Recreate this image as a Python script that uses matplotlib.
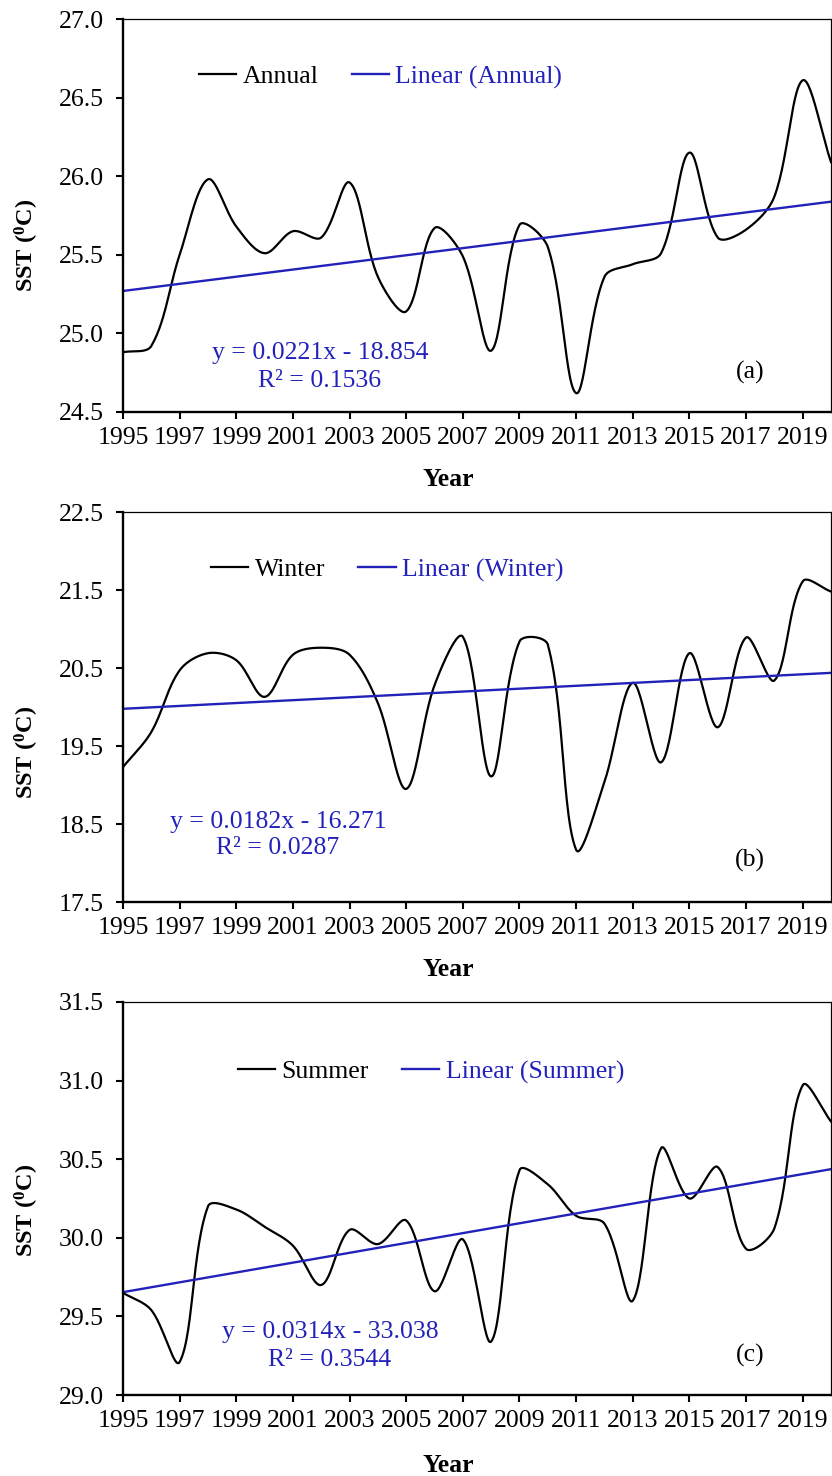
import numpy as np
import matplotlib
matplotlib.use("Agg")
from matplotlib import pyplot as plt

# Dados (SST média por ano)
anos = np.arange(1995, 2021)

sst_anual = [24.88, 24.92, 25.50, 25.98, 25.68, 25.51, 25.65, 25.61, 25.96, 25.36,
             25.14, 25.67, 25.49, 24.89, 25.69, 25.55, 24.62, 25.36, 25.44, 25.51,
             26.15, 25.61, 25.66, 25.87, 26.61, 26.09]

sst_inverno = [19.23, 19.68, 20.47, 20.69, 20.60, 20.13, 20.67, 20.76, 20.67, 20.05,
               18.95, 20.28, 20.90, 19.11, 20.84, 20.80, 18.17, 19.04, 20.31, 19.29,
               20.69, 19.74, 20.89, 20.34, 21.61, 21.48]

sst_verao = [29.65, 29.54, 29.21, 30.20, 30.18, 30.07, 29.95, 29.70, 30.05, 29.96,
             30.11, 29.66, 29.99, 29.34, 30.43, 30.34, 30.14, 30.09, 29.60, 30.57,
             30.25, 30.45, 29.93, 30.06, 30.97, 30.74]

nomes = ["Annual", "Winter", "Summer"]
equacoes = ["y = 0.0221x - 18.854", "y = 0.0182x - 16.271", "y = 0.0314x - 33.038"]
r2_textos = ["R\u00b2 = 0.1536", "R\u00b2 = 0.0287", "R\u00b2 = 0.3544"]
letras = ["(a)", "(b)", "(c)"]
limites_y = [(24.5, 27.0), (17.5, 22.5), (29.0, 31.5)]
passos_y = [0.5, 1.0, 0.5]

AZUL = "#2222bb"
W, H = 832, 1476
FS = 18.5

plt.rcParams['font.family'] = ['Liberation Serif', 'DejaVu Serif']
plt.rcParams['mathtext.fontset'] = 'custom'
plt.rcParams['mathtext.rm'] = 'Liberation Serif'
plt.rcParams['mathtext.bf'] = 'Liberation Serif:bold'


def suaviza(x, y, escala, n=30):
    # curva suavizada no estilo do Excel: Bezier com tangentes ponderadas
    # pelo comprimento das cordas (medido em pixels)
    x = np.asarray(x, float)
    y = np.asarray(y, float)
    xp = np.concatenate([[x[0]], x, [x[-1]]])
    yp = np.concatenate([[y[0]], y, [y[-1]]])
    pts = np.column_stack([xp, yp * escala])
    t = np.linspace(0, 1, n)[:, None]
    curva = []
    for i in range(len(x) - 1):
        p0, p1, p2, p3 = pts[i], pts[i + 1], pts[i + 2], pts[i + 3]
        d01 = np.hypot(*(p1 - p0))
        d12 = np.hypot(*(p2 - p1))
        d23 = np.hypot(*(p3 - p2))
        f1 = d12 / (d01 + d12) / 3 if d01 + d12 > 0 else 0
        f2 = d12 / (d12 + d23) / 3 if d12 + d23 > 0 else 0
        c1 = p1 + (p2 - p0) * f1
        c2 = p2 - (p3 - p1) * f2
        b = (1 - t) ** 3 * p1 + 3 * (1 - t) ** 2 * t * c1 \
            + 3 * (1 - t) * t ** 2 * c2 + t ** 3 * p2
        curva.append(b if i == 0 else b[1:])
    curva = np.vstack(curva)
    return curva[:, 0], curva[:, 1] / escala


fig = plt.figure(figsize=(W / 100, H / 100), dpi=100)

# posições dos painéis em pixels: (topo, base)
paineis = [(19, 412), (512, 902), (1002, 1395)]
legenda_pos = [(0.107, 0.852), (0.124, 0.851), (0.162, 0.822)]
eq_pos = [(320, 353, 381), (278, 822, 848), (330, 1332, 1360)]
letra_y = [372, 860, 1355]
ylabel_y = [245, 752, 1210]
year_y = [480, 970, 1466]

series = [sst_anual, sst_inverno, sst_verao]

for k in range(3):
    topo, base = paineis[k]
    ax = fig.add_axes([123 / W, 1 - base / H, 708 / W, (base - topo) / H])
    dados = series[k]

    px_ano = 708 / 25
    px_val = (base - topo) / (limites_y[k][1] - limites_y[k][0])
    xs, ys = suaviza(anos, dados, px_val / px_ano)
    ax.plot(xs, ys, color='black', lw=1.6, label=nomes[k])

    coef = np.polyfit(anos, dados, 1)
    ax.plot(anos, np.polyval(coef, anos), color=AZUL, lw=1.7,
            label=f"Linear ({nomes[k]})")

    ax.set_xlim(1995, 2020)
    ax.set_ylim(*limites_y[k])
    ax.set_xticks(np.arange(1995, 2020, 2))
    ax.set_xticklabels([str(a) for a in range(1995, 2020, 2)])
    yt = np.arange(limites_y[k][0], limites_y[k][1] + 1e-6, passos_y[k])
    ax.set_yticks(yt)
    ax.set_yticklabels([f"{v:.1f}" for v in yt])
    ax.tick_params(axis='both', direction='out', length=5, width=1.5,
                   labelsize=FS, colors='black')
    ax.tick_params(axis='y', pad=9)
    ax.tick_params(axis='x', pad=6)

    for lado in ['left', 'bottom']:
        ax.spines[lado].set_linewidth(1.7)
    for lado in ['top', 'right']:
        ax.spines[lado].set_linewidth(0.9)

    leg = ax.legend(loc='center left', bbox_to_anchor=legenda_pos[k], ncol=2,
                    frameon=False, fontsize=FS, handlelength=1.45,
                    handletextpad=0.25, columnspacing=1.3, borderpad=0,
                    borderaxespad=0)
    for txt, cor in zip(leg.get_texts(), ['black', AZUL]):
        txt.set_color(cor)

    ex, ey1, ey2 = eq_pos[k]
    fig.text(ex / W, 1 - ey1 / H, equacoes[k], color=AZUL, fontsize=FS,
             ha='center', va='center')
    fig.text(ex / W, 1 - ey2 / H, r2_textos[k], color=AZUL, fontsize=FS,
             ha='center', va='center')
    fig.text(750 / W, 1 - letra_y[k] / H, letras[k], fontsize=FS,
             ha='center', va='center')

    fig.text(27 / W, 1 - ylabel_y[k] / H, r"SST ($\mathbf{^{0}}$C)",
             fontsize=17.5, fontweight='bold', rotation=90,
             ha='center', va='center')
    fig.text(448 / W, 1 - year_y[k] / H, "Year", fontsize=FS,
             fontweight='bold', ha='center', va='center')

fig.savefig("out.png", dpi=100)
